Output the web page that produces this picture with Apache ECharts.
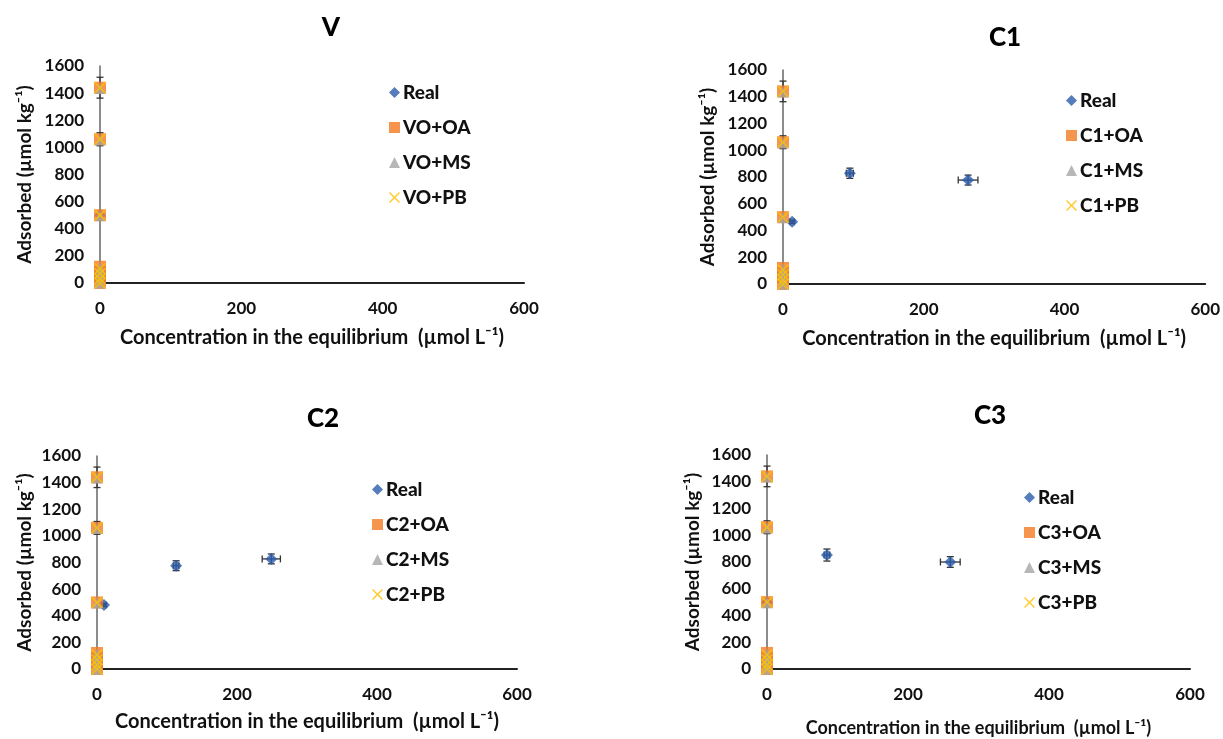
<!DOCTYPE html>
<html>
<head>
    <meta http-equiv="Content-Type" content="text/html; charset=utf-8" />
    <title>Adsorption</title>
    <script src="https://cdn.jsdelivr.net/npm/echarts@6/dist/echarts.min.js"></script>
    <style>
        html, body { margin: 0; padding: 0; background: #fff; }
        #chart { width: 1223px; height: 739px; }
    </style>
</head>
<body>
    <div id="chart"></div>

    <script>
        // 面板与图例名称
        var panelTitles = ['V', 'C1', 'C2', 'C3'];
        var panelPrefix = ['VO', 'C1', 'C2', 'C3'];

        // 改良剂处理 (x 都在 0 附近)
        var amendConc = [0, 0, 0, 0, 0, 0, 0];
        var oaAdsorbed = [0, 40, 80, 120, 500, 1060, 1440];
        var msAdsorbed = [0, 35, 75, 110, 495, 1055, 1435];
        var pbAdsorbed = [0, 30, 70, 105, 500, 1060, 1440];
        var oaErrY = [0, 0, 0, 0, 0, 48, 77];

        // 实际土壤 (Real)
        var realConc = [[0], [13, 95, 263], [10, 113, 249], [0, 85, 260]];
        var realAdsorbed = [[500], [465, 828, 777], [481, 776, 827], [500, 852, 800]];
        var realErrX = [[0], [3, 5, 14], [3, 4, 13], [0, 4, 14]];
        var realErrY = [[0], [12, 38, 37], [12, 37, 37], [0, 45, 40]];

        var xTickMax = 600, xTickStep = 200;
        var yTickMax = 1600, yTickStep = 200;

        var myChart = echarts.init(document.getElementById('chart'), null, { renderer: 'canvas' });

        var FONT = 'Lato';
        var grids = [
            { left: 100, top: 66, width: 424, height: 217 },
            { left: 783, top: 70, width: 424, height: 214 },
            { left: 97, top: 456, width: 420, height: 213 },
            { left: 767, top: 455, width: 423, height: 214 }
        ];
        var titlePos = [[326, 10], [1000, 20], [318, 401], [985, 398]];
        var legendPos = [[384, 78], [1061, 86], [367, 475], [1019, 483]];
        var yNameGap = [66, 66, 63, 65];
        var xNameGap = [45, 45, 43, 50];
        var xNameSize = [20, 20, 20, 18];

        var xShape = 'path://M0,1L1,0L5,4L9,0L10,1L6,5L10,9L9,10L5,6L1,10L0,9L4,5Z';

        function pairs(xs, ys) {
            var out = [];
            for (var i = 0; i < ys.length; i++) out.push([xs[i], ys[i]]);
            return out;
        }
        function withErr(xs, ys, ex, ey) {
            var out = [];
            for (var i = 0; i < ys.length; i++) out.push([xs[i], ys[i], ex[i], ey[i]]);
            return out;
        }

        function errRender(params, api) {
            var x = api.value(0), y = api.value(1), ex = api.value(2), ey = api.value(3);
            var children = [];
            var cap = 3.5;
            var st = { stroke: '#333', lineWidth: 1.3 };
            if (ey > 0) {
                var t = api.coord([x, y + ey]), b = api.coord([x, y - ey]);
                children.push({ type: 'line', shape: { x1: t[0], y1: t[1], x2: b[0], y2: b[1] }, style: st });
                children.push({ type: 'line', shape: { x1: t[0] - cap, y1: t[1], x2: t[0] + cap, y2: t[1] }, style: st });
                children.push({ type: 'line', shape: { x1: b[0] - cap, y1: b[1], x2: b[0] + cap, y2: b[1] }, style: st });
            }
            if (ex > 0) {
                var l = api.coord([x - ex, y]), r = api.coord([x + ex, y]);
                children.push({ type: 'line', shape: { x1: l[0], y1: l[1], x2: r[0], y2: r[1] }, style: st });
                children.push({ type: 'line', shape: { x1: l[0], y1: l[1] - cap, x2: l[0], y2: l[1] + cap }, style: st });
                children.push({ type: 'line', shape: { x1: r[0], y1: r[1] - cap, x2: r[0], y2: r[1] + cap }, style: st });
            }
            return { type: 'group', children: children };
        }

        var title = [], legend = [], xAxis = [], yAxis = [], series = [];
        for (var p = 0; p < 4; p++) {
            title.push({
                text: panelTitles[p], left: titlePos[p][0], top: titlePos[p][1], textAlign: 'center',
                textStyle: { fontFamily: FONT, fontWeight: 900, fontSize: 26, color: '#000' }
            });
            var names = ['Real', panelPrefix[p] + '+OA', panelPrefix[p] + '+MS', panelPrefix[p] + '+PB'];
            legend.push({
                orient: 'vertical', left: legendPos[p][0], top: legendPos[p][1],
                itemWidth: 11, itemHeight: 11, itemGap: 16,
                data: [
                    { name: names[0], icon: 'diamond' },
                    { name: names[1], icon: 'rect' },
                    { name: names[2], icon: 'triangle' },
                    { name: names[3], icon: xShape }
                ],
                textStyle: { fontFamily: FONT, fontWeight: 900, fontSize: 19, color: '#111', padding: [0, 0, 0, -2] }
            });
            xAxis.push({
                gridIndex: p, type: 'value', min: 0, max: xTickMax, interval: xTickStep,
                name: 'Concentration in the equilibrium  (µmol L⁻¹)',
                nameLocation: 'middle', nameGap: xNameGap[p],
                nameTextStyle: { fontFamily: FONT, fontWeight: 'bold', fontSize: xNameSize[p], color: '#111' },
                axisLine: { lineStyle: { color: '#222', width: 2 } },
                axisTick: { show: false },
                splitLine: { show: false },
                axisLabel: { fontFamily: FONT, fontWeight: 'bold', fontSize: 17, color: '#111', margin: 17 }
            });
            yAxis.push({
                gridIndex: p, type: 'value', min: 0, max: yTickMax, interval: yTickStep,
                name: 'Adsorbed (µmol kg⁻¹)',
                nameLocation: 'middle', nameGap: yNameGap[p],
                nameTextStyle: { fontFamily: FONT, fontWeight: 'bold', fontSize: 19, color: '#111' },
                axisLine: { show: true, lineStyle: { color: '#666', width: 1.5 } },
                axisTick: { show: false },
                splitLine: { show: false },
                axisLabel: {
                    fontFamily: FONT, fontWeight: 'bold', fontSize: 17, color: '#111', margin: 16,
                    formatter: function (v) { return String(v); }
                }
            });

            var real = withErr(realConc[p], realAdsorbed[p], realErrX[p], realErrY[p]);
            series.push({
                type: 'custom', xAxisIndex: p, yAxisIndex: p, renderItem: errRender,
                encode: { x: 0, y: 1 }, data: real, clip: false, silent: true, z: 1
            });
            series.push({
                name: names[0], type: 'scatter', xAxisIndex: p, yAxisIndex: p,
                symbol: 'diamond', symbolSize: 12, itemStyle: { color: '#2B5BAA' },
                data: pairs(realConc[p], realAdsorbed[p]), z: 2
            });
            series.push({
                type: 'custom', xAxisIndex: p, yAxisIndex: p, renderItem: errRender,
                encode: { x: 0, y: 1 }, clip: false, silent: true, z: 1,
                data: withErr(amendConc, oaAdsorbed, [0, 0, 0, 0, 0, 0, 0], oaErrY)
            });
            series.push({
                name: names[1], type: 'scatter', xAxisIndex: p, yAxisIndex: p,
                symbol: 'rect', symbolSize: 12, itemStyle: { color: '#F47A20' },
                data: pairs(amendConc, oaAdsorbed), z: 3
            });
            series.push({
                name: names[2], type: 'scatter', xAxisIndex: p, yAxisIndex: p,
                symbol: 'triangle', symbolSize: 11, itemStyle: { color: '#A5A5A5' },
                data: pairs(amendConc, msAdsorbed), z: 4
            });
            series.push({
                name: names[3], type: 'scatter', xAxisIndex: p, yAxisIndex: p,
                symbol: xShape, symbolSize: 12, itemStyle: { color: '#FFC000' },
                data: pairs(amendConc, pbAdsorbed), z: 5
            });
        }

        myChart.setOption({
            backgroundColor: '#fff',
            animation: false,
            title: title,
            legend: legend,
            grid: grids,
            xAxis: xAxis,
            yAxis: yAxis,
            series: series
        });
    </script>
</body>
</html>
